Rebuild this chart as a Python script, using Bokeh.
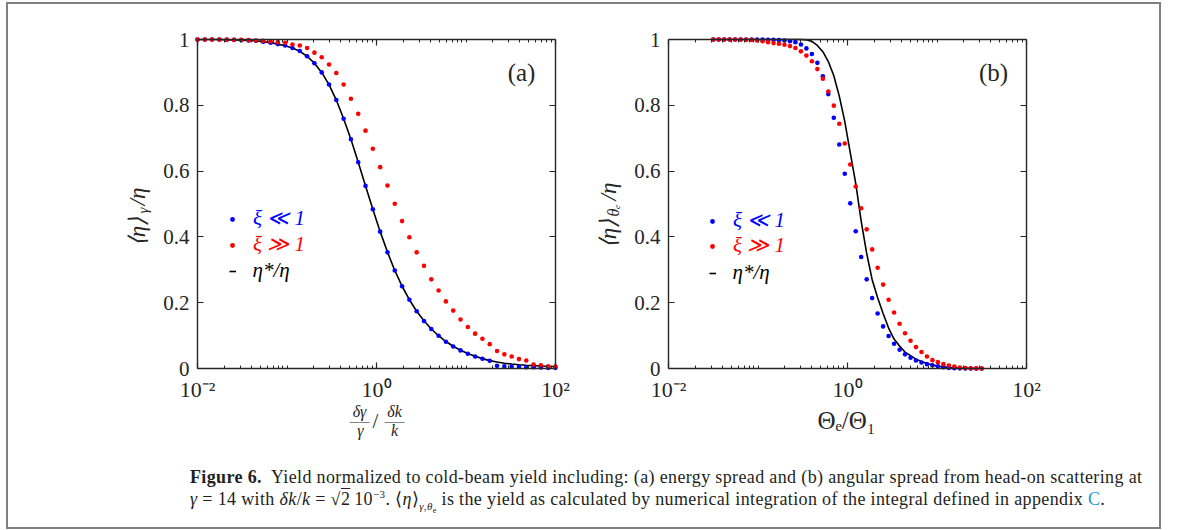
from bokeh.plotting import figure
from bokeh.models import (Range1d, FixedTicker, LogAxis, LinearAxis, CustomJSTickFormatter,
                          Label, Legend, LegendItem, Div)
from bokeh.layouts import row, column
from bokeh.core.properties import value
from bokeh.embed import file_html
from bokeh.resources import INLINE

# ---------------- data ----------------
x_energy = [0.01, 0.01207, 0.01456, 0.01758, 0.02121, 0.0256, 0.03089, 0.03728, 0.04498, 0.05429,
            0.06551, 0.07906, 0.09541, 0.1151, 0.139, 0.1677, 0.2024, 0.2442, 0.2947, 0.3556,
            0.4292, 0.518, 0.6251, 0.7543, 0.9103, 1.099, 1.326, 1.6, 1.931, 2.33,
            2.812, 3.393, 4.095, 4.942, 5.964, 7.197, 8.685, 10.48, 12.65, 15.26,
            18.42, 22.23, 26.83, 32.37, 39.07, 47.15, 56.9, 68.66, 82.86, 100.0]
energy_xi_small = [1.0, 1.0, 1.0, 1.0, 0.999, 0.999, 0.998, 0.997, 0.996, 0.993,
                   0.990, 0.986, 0.982, 0.974, 0.965, 0.949, 0.928, 0.900, 0.863, 0.816,
                   0.759, 0.697, 0.627, 0.555, 0.484, 0.416, 0.353, 0.298, 0.250, 0.209,
                   0.174, 0.144, 0.120, 0.0996, 0.0813, 0.067, 0.055, 0.0447, 0.0366, 0.0295,
                   0.0234, 0.008, 0.007, 0.006, 0.005, 0.004, 0.004, 0.003, 0.002, 0.002]
energy_xi_large = [1.0, 1.0, 1.0, 1.0, 1.0, 0.999, 0.999, 0.998, 0.997, 0.996,
                   0.994, 0.992, 0.990, 0.985, 0.982, 0.974, 0.960, 0.946, 0.924, 0.898,
                   0.863, 0.820, 0.774, 0.723, 0.668, 0.612, 0.556, 0.501, 0.448, 0.399,
                   0.353, 0.312, 0.271, 0.237, 0.204, 0.176, 0.149, 0.126, 0.106, 0.0905,
                   0.074, 0.053, 0.043, 0.0366, 0.0285, 0.0244, 0.012, 0.010, 0.007, 0.006]
energy_eta_star = [1.0, 1.0, 1.0, 1.0, 0.999, 0.999, 0.998, 0.997, 0.996, 0.993,
                   0.990, 0.986, 0.981, 0.974, 0.964, 0.949, 0.928, 0.900, 0.863, 0.816,
                   0.759, 0.697, 0.627, 0.555, 0.484, 0.416, 0.354, 0.298, 0.250, 0.209,
                   0.174, 0.145, 0.120, 0.0996, 0.0820, 0.0675, 0.0555, 0.0455, 0.0372, 0.0300,
                   0.0240, 0.0195, 0.0160, 0.0135, 0.0115, 0.0100, 0.0088, 0.0078, 0.0070, 0.0063]

x_angle = [0.03162, 0.0364, 0.04191, 0.04826, 0.05556, 0.06399, 0.07368, 0.08483, 0.09768, 0.1125,
           0.1295, 0.1491, 0.1716, 0.1976, 0.2276, 0.262, 0.3017, 0.3473, 0.4, 0.4605,
           0.5303, 0.6105, 0.703, 0.8094, 0.932, 1.073, 1.236, 1.422, 1.638, 1.886,
           2.171, 2.5, 2.879, 3.314, 3.816, 4.394, 5.059, 5.825, 6.707, 7.723,
           8.891, 10.24, 11.79, 13.57, 15.63, 17.99, 20.72, 23.85, 27.47, 31.62]
angle_xi_small = [1.0, 1.0, 1.0, 1.0, 1.0, 1.0, 1.0, 1.0, 1.0, 1.0,
                  0.999, 0.999, 0.998, 0.997, 0.995, 0.992, 0.985, 0.973, 0.956, 0.929,
                  0.888, 0.834, 0.762, 0.681, 0.592, 0.502, 0.417, 0.339, 0.271, 0.214,
                  0.167, 0.128, 0.0986, 0.075, 0.057, 0.043, 0.0325, 0.0244, 0.0183, 0.0132,
                  0.010, 0.007, 0.004, 0.002, 0.001, 0.0005, 0.0003, 0.0002, 0.0001, 0.0]
angle_xi_large = [1.0, 1.0, 1.0, 1.0, 1.0, 1.0, 0.999, 0.999, 0.997, 0.995,
                  0.992, 0.989, 0.987, 0.984, 0.980, 0.974, 0.964, 0.951, 0.934, 0.910,
                  0.881, 0.842, 0.799, 0.744, 0.684, 0.620, 0.553, 0.487, 0.423, 0.362,
                  0.306, 0.255, 0.209, 0.170, 0.136, 0.107, 0.0844, 0.065, 0.050, 0.0366,
                  0.0254, 0.0193, 0.0132, 0.0091, 0.006, 0.003, 0.0015, 0.0007, 0.0003, 0.0001]
angle_eta_star = [1.0, 1.0, 1.0, 1.0, 1.0, 1.0, 1.0, 1.0, 1.0, 1.0,
                  1.0, 1.0, 1.0, 1.0, 1.0, 1.0, 1.0, 0.999, 0.994, 0.982,
                  0.963, 0.933, 0.890, 0.828, 0.751, 0.656, 0.563, 0.448, 0.350, 0.270,
                  0.215, 0.167, 0.123, 0.0894, 0.0681, 0.050, 0.039, 0.0285, 0.021, 0.015,
                  0.011, 0.007, 0.005, 0.003, 0.002, 0.0012, 0.0008, 0.0005, 0.0003, 0.0002]

x_major_ticks = [0.01, 1, 100]
x_minor_ticks = [m * d for d in (0.01, 0.1, 1, 10) for m in range(2, 10)] + [0.1, 10]
y_ticks = [0, 0.2, 0.4, 0.6, 0.8, 1]
legend_labels = ["ξ ≪ 1", "ξ ≫ 1", "η*/η"]

# ---------------- styling / geometry ----------------
AX = "#262626"
SERIF = "Liberation Serif"
BLUE, RED = "#0000FF", "#FF0000"
FIG_H = 451
BOX_T, BOX_W, BOX_H = 35, 358, 329          # axes box inside each figure (pixels)
PAGE_X0, PAGE_Y0 = 8, 4                      # page position of the first figure
DEC_PER_PX = 4.0 / BOX_W

exp_fmt = CustomJSTickFormatter(code="""
const sup = {"-":"\u207b","0":"\u2070","1":"\u00b9","2":"\u00b2","3":"\u00b3"};
const e = Math.round(Math.log10(tick));
return "10" + String(e).split("").map(c => sup[c]).join("");
""")
y_fmt = CustomJSTickFormatter(code="""
if (Math.abs(tick) < 1e-9) return "0";
if (Math.abs(tick - 1) < 1e-9) return "1";
return tick.toFixed(1);
""")
blank_fmt = CustomJSTickFormatter(code="return '';")


def style_axis(ax, size=None):
    ax.axis_line_color = AX
    ax.axis_line_width = 1.4
    ax.major_tick_line_color = AX
    ax.minor_tick_line_color = AX
    ax.major_tick_in = 6
    ax.major_tick_out = 0
    ax.minor_tick_in = 3
    ax.minor_tick_out = 0
    ax.major_tick_line_width = 1.2
    ax.minor_tick_line_width = 1.0
    ax.major_label_text_font = SERIF
    ax.major_label_text_color = AX
    if size:
        ax.major_label_text_font_size = size
        ax.major_label_standoff = 8
    else:
        ax.major_label_text_font_size = "1px"
        ax.major_label_standoff = 0


def make_panel(xs, ys_small, ys_large, ys_star, width, box_left, page_left):
    # the plotting frame fills the whole figure; the axes box is drawn with fixed-location axes
    x0 = -2 - box_left * DEC_PER_PX
    x1 = 2 + (width - box_left - BOX_W) * DEC_PER_PX
    y0 = -(FIG_H - BOX_T - BOX_H) / BOX_H
    y1 = 1 + BOX_T / BOX_H
    p = figure(width=width, height=FIG_H, x_axis_type="log",
               x_range=Range1d(10 ** x0, 10 ** x1), y_range=Range1d(y0, y1),
               x_axis_location=None, y_axis_location=None, min_border=0,
               toolbar_location=None, output_backend="svg")
    p.grid.visible = False
    p.outline_line_color = None
    p.background_fill_color = "white"
    p.border_fill_color = "white"

    xt = FixedTicker(ticks=x_major_ticks, minor_ticks=x_minor_ticks)
    yt = FixedTicker(ticks=y_ticks, minor_ticks=[])
    bottom = LogAxis(ticker=xt, formatter=exp_fmt, fixed_location=0, bounds=(0.01, 100))
    top = LogAxis(ticker=xt, formatter=blank_fmt, fixed_location=1, bounds=(0.01, 100))
    left = LinearAxis(ticker=yt, formatter=y_fmt, fixed_location=0.01, bounds=(0, 1))
    right = LinearAxis(ticker=yt, formatter=blank_fmt, fixed_location=100, bounds=(0, 1))
    style_axis(bottom, "22px")
    style_axis(left, "21px")
    style_axis(top)
    style_axis(right)
    p.add_layout(bottom, "below")
    p.add_layout(left, "left")
    p.add_layout(top, "above")
    p.add_layout(right, "right")

    line_r = p.line(xs, ys_star, line_color="black", line_width=1.6)
    blue_r = p.scatter(xs, ys_small, size=4.6, fill_color=BLUE, line_color=None)
    red_r = p.scatter(xs, ys_large, size=4.6, fill_color=RED, line_color=None)

    box_left_page = page_left + box_left
    box_bottom_page = PAGE_Y0 + BOX_T + BOX_H

    def lab(px, py, text, size, color=AX, style="normal", angle=0.0):
        p.add_layout(Label(x=10 ** (-2 + (px - box_left_page) * DEC_PER_PX),
                           y=(box_bottom_page - py) / BOX_H,
                           text=text, text_font=SERIF,
                           text_font_size=f"{size}px", text_color=color,
                           text_font_style=style, text_align="center",
                           text_baseline="middle", angle=angle))

    def legends(dot_x_page, ys_page):
        fx0 = page_left                      # frame left (page)
        fy0 = PAGE_Y0 + FIG_H                # frame bottom (page)
        specs = [(blue_r, legend_labels[0], BLUE, 12),
                 (red_r, legend_labels[1], RED, 12),
                 (line_r, legend_labels[2], "black", 7)]
        for (r, txt, col, gw), yp in zip(specs, ys_page):
            lx = dot_x_page - gw / 2 - fx0
            leg = Legend(items=[LegendItem(label=value(txt), renderers=[r])],
                         location=(lx, (fy0 - yp) - 12),
                         glyph_width=gw, glyph_height=12,
                         label_standoff=int(21 - gw / 2),
                         label_height=20, padding=0, margin=0, spacing=0,
                         border_line_color=None, background_fill_alpha=0,
                         label_text_font=SERIF, label_text_font_size="21px",
                         label_text_font_style="italic", label_text_color=col)
            p.add_layout(leg)

    return p, lab, legends


# ---------------- panel (a) ----------------
WA, WB = 577, 574
pa, laba, lega = make_panel(x_energy, energy_xi_small, energy_xi_large, energy_eta_star,
                            WA, 189, PAGE_X0)
lega(232, [219, 245, 271])
laba(521, 72, "(a)", 25)
laba(137, 231, "⟨η⟩", 23, style="italic", angle=1.5708)
laba(142, 210, "γ", 15, style="italic", angle=1.5708)
laba(137, 196, "/η", 23, style="italic", angle=1.5708)
laba(359, 411, "δγ", 16, style="italic")
laba(359, 421, "——", 10)
laba(360, 430, "γ", 16, style="italic")
laba(375, 420, "/", 21)
laba(394, 411, "δk", 16, style="italic")
laba(394, 421, "——", 10)
laba(394, 430, "k", 16, style="italic")

# ---------------- panel (b) ----------------
pb, labb, legb = make_panel(x_angle, angle_xi_small, angle_xi_large, angle_eta_star,
                            WB, 83, PAGE_X0 + WA)
legb(712, [221, 246, 273])
labb(993, 72, "(b)", 25)
labb(608, 233, "⟨η⟩", 23, style="italic", angle=1.5708)
labb(613, 210, "θₑ", 16, style="italic", angle=1.5708)
labb(608, 191, "/η", 23, style="italic", angle=1.5708)
labb(846, 420, "Θₑ/Θ₁", 25)

# ---------------- caption ----------------
LINE = "height:22px;line-height:22px;white-space:nowrap;"
caption = Div(width=WA + WB, height=72, margin=(0, 0, 0, 0), text=f"""
<div style="font-family:'Liberation Serif',serif;font-size:18px;letter-spacing:0.36px;
            color:#231f20;padding-left:182px;padding-top:11px;">
<div style="{LINE}"><b>Figure 6.</b>&nbsp; Yield normalized to cold-beam yield including: (a) energy spread and (b) angular spread from head-on scattering at</div>
<div style="{LINE}"><i>γ</i> = 14 with <i>δk</i>/<i>k</i> = √<span style="text-decoration:overline">2</span>&thinsp;10<sup style="font-size:11px;line-height:0">−3</sup>.
⟨<i>η</i>⟩<sub style="font-size:11px;line-height:0"><i>γ</i>,<i>θ</i><sub style="font-size:8px">e</sub></sub>
is the yield as calculated by numerical integration of the integral defined in appendix <span style="color:#1c9bd7">C</span>.</div>
</div>
""")

layout = column(row(pa, pb, spacing=0), caption, spacing=0,
                styles={"border": "2px solid #808080"}, margin=(2, 0, 0, 6))

open("out.html", "w").write(file_html(layout, INLINE))
